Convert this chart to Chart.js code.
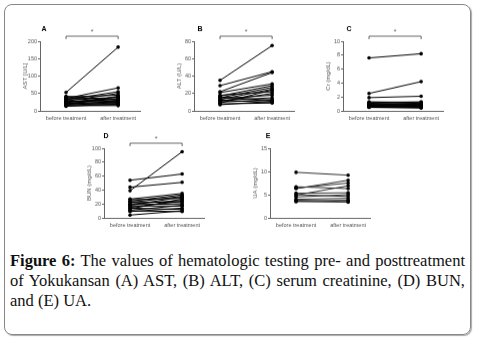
<!DOCTYPE html>
<html lang="en">
<head>
<meta charset="UTF-8">
<title>Figure 6</title>
<script src="https://cdn.jsdelivr.net/npm/chart.js"></script>
<style>
    html, body {
        margin: 0;
        padding: 0;
        background: #fff;
        width: 478px;
        height: 339px;
        overflow: hidden;
    }
    .frame {
        position: absolute;
        left: 4px;
        top: 4px;
        width: 465px;
        height: 329px;
        border: 1px solid #888;
        border-radius: 8px;
        box-shadow: 1px 1px 1px #aaa;
    }
    canvas {
        position: absolute;
    }
    .caption {
        position: absolute;
        left: 10px;
        top: 251px;
        width: 455px;
        font-family: "Liberation Serif", "Times New Roman", serif;
        font-size: 16.5px;
        line-height: 20px;
        color: #111;
    }
    .caption div {
        text-align: justify;
        text-align-last: justify;
        white-space: nowrap;
    }
    .caption div.last {
        text-align-last: left;
    }
</style>
</head>
<body>
<div class="frame"></div>
<canvas id="chartA"></canvas>
<canvas id="chartB"></canvas>
<canvas id="chartC"></canvas>
<canvas id="chartD"></canvas>
<canvas id="chartE"></canvas>
<div class="caption">
    <div><b>Figure 6:</b> The values of hematologic testing pre- and posttreatment</div>
    <div>of Yokukansan (A) AST, (B) ALT, (C) serum creatinine, (D) BUN,</div>
    <div class="last">and (E) UA.</div>
</div>

<script>
    // x categories
    const timepoints = ['before treatment', 'after treatment'];

    // AST (U/L)
    const astBefore = [53, 42, 40, 38, 36, 34, 32, 30, 28, 27, 25, 24, 22, 21, 20, 18, 17, 16, 15, 13];
    const astAfter  = [183, 30, 45, 25, 66, 38, 55, 22, 50, 33, 28, 40, 20, 35, 26, 18, 42, 24, 15, 19];

    // ALT (U/L)
    const altBefore = [35, 29, 22, 21, 18, 17, 16, 15, 14, 13, 12, 12, 11, 10, 9, 8, 7];
    const altAfter  = [75, 45, 44, 31, 22, 29, 12, 27, 18, 25, 10, 15, 20, 13, 24, 9, 11];

    // Cr (mg/dL)
    const crBefore = [7.6, 2.5, 1.9, 1.3, 1.2, 1.1, 1.0, 0.9, 0.9, 0.8, 0.8, 0.7, 0.7, 0.6, 0.6, 0.5, 0.5];
    const crAfter  = [8.2, 4.2, 2.1, 1.2, 1.3, 0.9, 1.1, 1.0, 0.8, 0.9, 0.6, 0.8, 0.7, 0.5, 0.7, 0.6, 0.4];

    // BUN (mg/dL)
    const bunBefore = [54, 44, 39, 27, 26, 24, 23, 22, 20, 19, 18, 17, 15, 14, 13, 11, 10, 9, 4];
    const bunAfter  = [63, 51, 95, 35, 28, 33, 22, 31, 25, 20, 30, 17, 24, 12, 27, 18, 9, 14, 10];

    // UA (mg/dL)
    const uaBefore = [9.8, 6.7, 6.4, 6.3, 5.3, 5.0, 4.9, 4.5, 4.0, 3.8, 3.6, 3.5];
    const uaAfter  = [9.2, 6.3, 7.5, 8.1, 5.4, 4.6, 6.9, 5.0, 4.2, 3.5, 3.8, 3.4];

    // panel layout: axisX / plotTop = page position of the y axis and top of plot area
    const panels = [
        { id: 'chartA', letter: 'A', title: 'AST [U/L]',   before: astBefore, after: astAfter, max: 200, step: 50, axisX: 39.5, plotTop: 41,  sig: true,  letterDx: 4, lineColor: '#000' },
        { id: 'chartB', letter: 'B', title: 'ALT (U/L)',   before: altBefore, after: altAfter, max: 80,  step: 20, axisX: 194,  plotTop: 41,  sig: true,  letterDx: 6, lineColor: '#000' },
        { id: 'chartC', letter: 'C', title: 'Cr (mg/dL)',  before: crBefore,  after: crAfter,  max: 10,  step: 2,  axisX: 343,  plotTop: 41,  sig: true,  letterDx: 6, lineColor: '#000' },
        { id: 'chartD', letter: 'D', title: 'BUN (mg/dL)', before: bunBefore, after: bunAfter, max: 100, step: 20, axisX: 103.5, plotTop: 148, sig: true,  letterDx: 2, lineColor: '#000' },
        { id: 'chartE', letter: 'E', title: 'UA (mg/dL)',  before: uaBefore,  after: uaAfter,  max: 15,  step: 5,  axisX: 269.5, plotTop: 148, sig: false, letterDx: -2, lineColor: '#333' }
    ];

    const LEFT = 35, TOP = 20, PLOT_W = 100, PLOT_H = 69.5, BOTTOM = 16, RIGHT = 6;
    const tickFont = { family: 'Arial, "Liberation Sans", sans-serif', size: 5.5 };

    // letter, significance bracket and star
    const annotate = {
        id: 'annotate',
        afterDraw(chart) {
            const p = chart.options.plugins.annotate;
            const ctx = chart.ctx;
            const area = chart.chartArea;
            const x = chart.scales.x;
            ctx.save();
            ctx.fillStyle = '#000';
            ctx.font = 'bold 7px Arial, "Liberation Sans", sans-serif';
            ctx.textAlign = 'center';
            ctx.textBaseline = 'middle';
            ctx.fillText(p.letter, area.left + p.letterDx, area.top - 11.5);
            if (p.sig) {
                const x0 = x.getPixelForValue(0), x1 = x.getPixelForValue(1);
                const y = area.top - 5;
                ctx.strokeStyle = '#555';
                ctx.lineWidth = 0.9;
                ctx.beginPath();
                ctx.moveTo(x0, y + 3);
                ctx.lineTo(x0, y);
                ctx.lineTo(x1, y);
                ctx.lineTo(x1, y + 3);
                ctx.stroke();
                ctx.fillStyle = '#666';
                ctx.font = '7px Arial, "Liberation Sans", sans-serif';
                ctx.fillText('*', (x0 + x1) / 2, y - 4);
            }
            ctx.restore();
        }
    };

    panels.forEach(function (p) {
        const canvas = document.getElementById(p.id);
        const w = LEFT + PLOT_W + RIGHT;
        const h = TOP + PLOT_H + BOTTOM;
        canvas.style.left = (p.axisX - LEFT) + 'px';
        canvas.style.top = (p.plotTop - TOP) + 'px';
        canvas.style.width = w + 'px';
        canvas.style.height = h + 'px';
        canvas.width = w;
        canvas.height = h;

        const datasets = p.before.map(function (b, i) {
            return {
                data: [{ x: 0, y: b }, { x: 1, y: p.after[i] }],
                borderColor: p.lineColor,
                backgroundColor: '#000',
                borderWidth: 1,
                pointRadius: 1.8,
                pointBorderWidth: 0,
                tension: 0
            };
        });

        new Chart(canvas, {
            type: 'line',
            data: { datasets: datasets },
            options: {
                responsive: false,
                animation: false,
                layout: { padding: { top: TOP, right: RIGHT, left: 0, bottom: 0 } },
                plugins: {
                    legend: { display: false },
                    tooltip: { enabled: false },
                    annotate: { letter: p.letter, sig: p.sig, letterDx: p.letterDx }
                },
                scales: {
                    x: {
                        type: 'linear',
                        min: -0.5,
                        max: 1.42,
                        afterBuildTicks: function (scale) {
                            scale.ticks = timepoints.map(function (_, i) { return { value: i }; });
                        },
                        afterFit: function (scale) { scale.height = BOTTOM; },
                        grid: { display: true, drawOnChartArea: false, drawTicks: false },
                        border: { color: '#666', width: 1 },
                        ticks: {
                            padding: 4,
                            maxRotation: 0,
                            autoSkip: false,
                            color: '#555',
                            font: tickFont,
                            callback: function (v) { return timepoints[v]; }
                        }
                    },
                    y: {
                        min: 0,
                        max: p.max,
                        afterFit: function (scale) { scale.width = LEFT; },
                        grid: { drawOnChartArea: false, drawTicks: true, tickLength: 2, color: '#666' },
                        border: { color: '#666', width: 1 },
                        ticks: { stepSize: p.step, padding: 1, color: '#555', font: tickFont },
                        title: {
                            display: true,
                            text: p.title,
                            color: '#555',
                            font: { family: 'Arial, "Liberation Sans", sans-serif', size: 6 },
                            padding: { top: 17 }
                        }
                    }
                }
            },
            plugins: [annotate]
        });
    });
</script>
</body>
</html>
